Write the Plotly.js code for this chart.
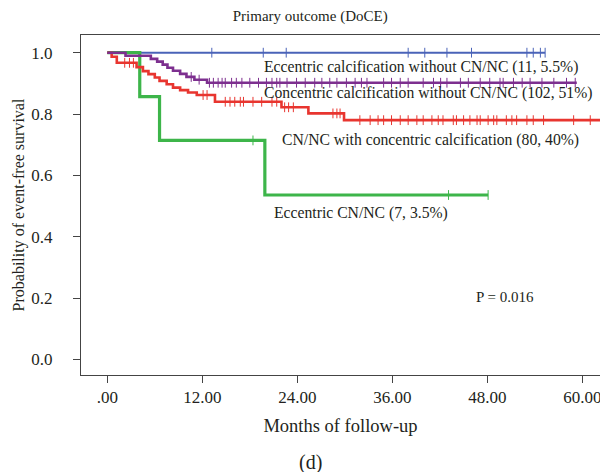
<!DOCTYPE html>
<html>
<head>
<meta charset="utf-8">
<script src="https://cdn.plot.ly/plotly-3.0.1.min.js"></script>
<style>html,body{margin:0;padding:0;background:#fff;}#chart{width:600px;height:472px;}</style>
</head>
<body>
<div id="chart"></div>
<script>
// ---- Data ----
const xTickVals = [0, 12, 24, 36, 48, 60];
const xTickText = [".00", "12.00", "24.00", "36.00", "48.00", "60.00"];
const yTickVals = [0, 0.2, 0.4, 0.6, 0.8, 1.0];
const yTickText = ["0.0", "0.2", "0.4", "0.6", "0.8", "1.0"];

// Eccentric calcification without CN/NC (11, 5.5%)
const blueEventTimes = [];
const blueSurv = [];
const blueEnd = 55.3;
const blueCensor = [13.2, 19.7, 22.6, 38.0, 40.1, 42.9, 46.0, 53.0, 53.8, 54.7, 55.3];

// Concentric calcification without CN/NC (102, 51%)
const purpleEventTimes = [2.3, 5.5, 6.3, 7.0, 7.6, 8.3, 9.2, 10.0, 11.0, 12.6];
const purpleSurv = [0.990, 0.980, 0.971, 0.961, 0.951, 0.941, 0.931, 0.921, 0.912, 0.902];
const purpleEnd = 59.3;
const purpleCensor = [10.6, 11.6, 12.9, 13.4, 14.0, 14.5, 14.9, 15.7, 16.3, 17.0, 18.0, 19.1, 20.1, 20.8, 21.4, 21.8, 22.7, 23.9, 25.0, 26.2, 27.1, 28.1, 29.0, 30.2, 31.3, 32.1, 32.8, 34.9, 35.9, 37.0, 38.0, 39.9, 41.2, 42.1, 42.9, 44.6, 45.6, 47.1, 48.3, 49.6, 50.0, 51.3, 52.4, 53.4, 54.9, 56.4, 58.0, 59.1];

// CN/NC with concentric calcification (80, 40%)
const redEventTimes = [0.55, 1.2, 3.7, 4.5, 5.2, 6.0, 6.6, 7.5, 8.3, 9.2, 10.2, 11.3, 13.6, 22.0, 25.4, 29.9];
const redSurv = [0.987, 0.967, 0.953, 0.940, 0.930, 0.919, 0.908, 0.897, 0.886, 0.878, 0.870, 0.862, 0.840, 0.822, 0.802, 0.780];
const redEnd = 62.6;
const redCensor = [2.2, 2.8, 3.3, 12.1, 12.6, 14.9, 15.5, 16.1, 16.8, 17.2, 18.4, 19.5, 20.8, 21.4, 22.4, 22.9, 23.5, 28.5, 29.0, 29.4, 31.9, 33.2, 34.2, 34.9, 35.9, 37.0, 38.0, 39.1, 39.9, 41.0, 41.8, 42.4, 43.7, 44.1, 45.0, 45.8, 46.7, 47.1, 48.1, 48.8, 49.2, 50.4, 51.1, 51.7, 53.0, 53.8, 55.1, 58.9, 61.0];

// Eccentric CN/NC (7, 3.5%)
const greenEventTimes = [4.1, 6.6, 19.9];
const greenSurv = [0.857, 0.714, 0.536];
const greenEnd = 48.1;
const greenCensor = [18.4, 43.1, 48.1];

const labelText = [
  "Eccentric calcification without CN/NC (11, 5.5%)",
  "Concentric calcification without CN/NC (102, 51%)",
  "CN/NC with concentric calcification (80, 40%)",
  "Eccentric CN/NC (7, 3.5%)"
];
const pText = "P = 0.016";

// ---- Helpers ----
function stepXY(times, surv, end) {
  const x = [0], y = [1];
  for (let i = 0; i < times.length; i++) { x.push(times[i]); y.push(surv[i]); }
  x.push(end); y.push(y[y.length - 1]);
  return {x, y};
}
function survAt(times, surv, t) {
  let s = 1;
  for (let i = 0; i < times.length; i++) { if (times[i] <= t) s = surv[i]; }
  return s;
}
const FONT = "Liberation Serif, Times New Roman, serif";
const TXT = "#231f20";

function group(times, surv, end, censor, color, width) {
  const st = stepXY(times, surv, end);
  return [
    {x: st.x, y: st.y, type: "scatter", mode: "lines", line: {shape: "hv", color: color, width: width}, hoverinfo: "skip", showlegend: false},
    {x: censor, y: censor.map(t => survAt(times, surv, t)), type: "scatter", mode: "markers",
     marker: {symbol: "line-ns-open", size: 7, color: color, line: {color: color, width: 1}}, hoverinfo: "skip", showlegend: false}
  ];
}

const BLUE = "#4a63b8", PURPLE = "#7d2f8f", RED = "#e8352f", GREEN = "#3db54a";
const data = [].concat(
  group(blueEventTimes, blueSurv, blueEnd, blueCensor, BLUE, 2),
  group(greenEventTimes, greenSurv, greenEnd, greenCensor, GREEN, 3.2),
  group(redEventTimes, redSurv, redEnd, redCensor, RED, 2.6),
  group(purpleEventTimes, purpleSurv, purpleEnd, purpleCensor, PURPLE, 2.6)
);

const annFont = {family: FONT, size: 15.7, color: TXT};
const layout = {
  width: 600, height: 472,
  margin: {l: 81, r: 0, t: 35, b: 97},
  paper_bgcolor: "#fff", plot_bgcolor: "#fff",
  title: {text: "Primary outcome (DoCE)", font: {family: FONT, size: 15, color: TXT},
          x: 0.517, xref: "container", xanchor: "center", y: 1 - 16/472, yref: "container", yanchor: "middle"},
  xaxis: {
    range: [-3.32, 62.23], tickvals: xTickVals, ticktext: xTickText,
    ticks: "outside", ticklen: 7, tickwidth: 1, tickcolor: "#444",
    showline: true, linecolor: "#444", linewidth: 1, mirror: true,
    showgrid: false, zeroline: false,
    ticklabeloverflow: "allow",
    tickfont: {family: FONT, size: 17, color: TXT},
    title: {text: "Months of follow-up", font: {family: FONT, size: 18.5, color: TXT}, standoff: 12}
  },
  yaxis: {
    range: [-0.051, 1.0577], tickvals: yTickVals, ticktext: yTickText,
    ticks: "outside", ticklen: 7, tickwidth: 1, tickcolor: "#444",
    showline: true, linecolor: "#444", linewidth: 1, mirror: false,
    showgrid: false, zeroline: false,
    tickfont: {family: FONT, size: 17, color: TXT},
    ticklabelstandoff: 17,
    title: {text: "Probability of event-free survival", font: {family: FONT, size: 16, color: TXT}, standoff: 2}
  },
  annotations: [
    {x: 19.54, y: 0.953, xref: "x", yref: "y", text: labelText[0], showarrow: false, xanchor: "left", yanchor: "middle", font: annFont},
    {x: 19.54, y: 0.869, xref: "x", yref: "y", text: labelText[1], showarrow: false, xanchor: "left", yanchor: "middle", font: annFont},
    {x: 21.8, y: 0.715, xref: "x", yref: "y", text: labelText[2], showarrow: false, xanchor: "left", yanchor: "middle", font: annFont},
    {x: 20.8, y: 0.477, xref: "x", yref: "y", text: labelText[3], showarrow: false, xanchor: "left", yanchor: "middle", font: annFont},
    {x: 46.3, y: 0.203, xref: "x", yref: "y", text: pText, showarrow: false, xanchor: "left", yanchor: "middle", font: {family: FONT, size: 15, color: TXT}},
    {x: (310 - 81) / 519, y: (375 - 462) / 340, xref: "paper", yref: "paper", text: "(d)", showarrow: false, xanchor: "center", yanchor: "middle", font: {family: FONT, size: 20, color: TXT}}
  ]
};

Plotly.newPlot("chart", data, layout, {displayModeBar: false, staticPlot: true});
</script>
</body>
</html>
